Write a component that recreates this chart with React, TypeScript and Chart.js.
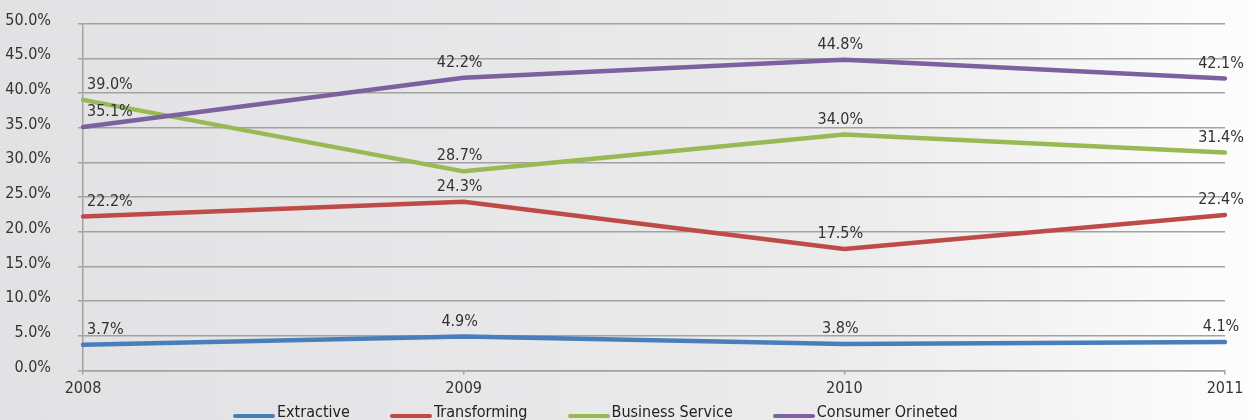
import { useEffect, useRef } from "react";
import { Chart, registerables } from "chart.js";

Chart.register(...registerables);

const years = ["2008", "2009", "2010", "2011"];
const extractive = [3.7, 4.9, 3.8, 4.1];
const transforming = [22.2, 24.3, 17.5, 22.4];
const businessService = [39.0, 28.7, 34.0, 31.4];
const consumerOriented = [35.1, 42.2, 44.8, 42.1];

const seriesNames = ["Extractive", "Transforming", "Business Service", "Consumer Orineted"];
const seriesColors = ["#4a7ebb", "#be4b48", "#98b954", "#7d60a0"];

const FONT = "'Liberation Sans Narrow', 'DejaVu Sans Condensed', 'Arial Narrow', sans-serif";
const GRID = "#a2a2a2";

// value labels above each point
const valueLabels = {
  id: "valueLabels",
  afterDatasetsDraw(chart: Chart) {
    const ctx = chart.ctx;
    ctx.save();
    ctx.font = `16px ${FONT}`;
    ctx.fillStyle = "#333";
    ctx.textBaseline = "middle";
    chart.data.datasets.forEach((ds, i) => {
      const meta = chart.getDatasetMeta(i);
      meta.data.forEach((pt, j) => {
        const v = ds.data[j] as number;
        const txt = v.toFixed(1) + "%";
        if (j === 0) {
          ctx.textAlign = "left";
          ctx.fillText(txt, pt.x + 4, pt.y - 15);
        } else {
          ctx.textAlign = "center";
          ctx.fillText(txt, pt.x - 4, pt.y - 15);
        }
      });
    });
    ctx.restore();
  },
};

export default function App() {
  const canvasRef = useRef<HTMLCanvasElement | null>(null);

  useEffect(() => {
    if (!canvasRef.current) return;
    const values = [extractive, transforming, businessService, consumerOriented];
    const chart = new Chart(canvasRef.current, {
      type: "line",
      data: {
        labels: years,
        datasets: values.map((data, i) => ({
          label: seriesNames[i],
          data,
          borderColor: seriesColors[i],
          backgroundColor: seriesColors[i],
          borderWidth: 4.5,
          borderCapStyle: "round",
          borderJoinStyle: "round",
          pointRadius: 0,
          tension: 0,
          order: 4 - i,
        })),
      },
      options: {
        responsive: false,
        animation: false,
        layout: { padding: { top: 11, right: 31, bottom: 0, left: 0 } },
        plugins: {
          legend: { display: false },
          tooltip: { enabled: false },
        },
        scales: {
          x: {
            offset: false,
            grid: { drawOnChartArea: false, drawTicks: true, tickLength: 4, color: GRID, lineWidth: 1.5 },
            border: { display: true, color: GRID, width: 1.5 },
            ticks: { color: "#333", font: { family: FONT, size: 16 }, padding: 5, maxRotation: 0 },
            afterFit: (s: any) => {
              s.height = 30;
            },
          },
          y: {
            min: 0,
            max: 50,
            grid: { color: GRID, lineWidth: 1.5, tickLength: 5 },
            border: { display: true, color: GRID, width: 1.5 },
            ticks: {
              stepSize: 5,
              padding: 27,
              labelOffset: -3,
              color: "#333",
              font: { family: FONT, size: 16 },
              callback: (v: any) => Number(v).toFixed(1) + "%",
            },
            afterFit: (s: any) => {
              s.width = 83;
            },
          },
        },
      },
      plugins: [valueLabels],
    });
    return () => chart.destroy();
  }, []);

  return (
    <div
      style={{
        position: "fixed",
        left: 0,
        top: 0,
        width: 1256,
        height: 420,
        overflow: "hidden",
        background:
          "linear-gradient(to right, #e2e2e4 0%, #e6e6e8 30%, #ebebec 65%, #f3f3f3 82%, #fbfbfb 95%, #fdfdfd 100%)",
      }}
    >
      <canvas ref={canvasRef} width={1256} height={420} style={{ position: "absolute", left: 0, top: -13 }} />
      <div
        style={{
          position: "absolute",
          left: 233,
          top: 402,
          display: "flex",
          alignItems: "center",
          fontFamily: FONT,
          fontSize: 16,
          color: "#222",
          whiteSpace: "nowrap",
        }}
      >
        {seriesNames.map((name, i) => (
          <div key={name} style={{ display: "flex", alignItems: "center", marginRight: 40 }}>
            <span
              style={{
                display: "inline-block",
                width: 42,
                height: 4,
                borderRadius: 2,
                background: seriesColors[i],
                marginRight: 2,
                marginTop: 8,
              }}
            />
            <span>{name}</span>
          </div>
        ))}
      </div>
    </div>
  );
}
